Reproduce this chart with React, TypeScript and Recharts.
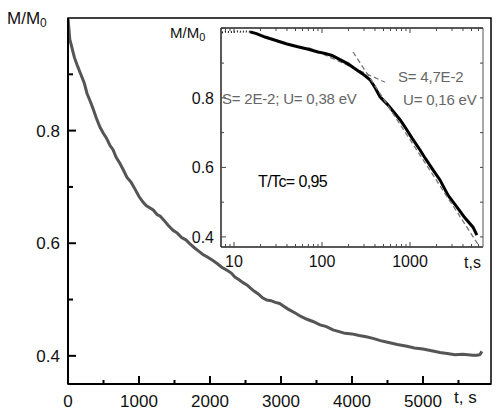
import React from "react";
import {
  LineChart,
  Line,
  XAxis,
  YAxis,
  CartesianGrid,
  ReferenceArea,
} from "recharts";

// main panel: relaxation M/M0 vs t (linear time)
const mainT = [
  0, 10, 25, 40, 56, 90, 127, 180, 230, 268, 310, 350, 400, 451, 500, 540, 590, 634, 680, 730, 780, 831,
  890, 940, 1000, 1056, 1100, 1150, 1200, 1254, 1300, 1350, 1410, 1479, 1540, 1600, 1660, 1718, 1780,
  1840, 1900, 1958, 2030, 2100, 2170, 2240, 2300, 2350, 2410, 2465, 2520, 2563, 2620, 2680, 2740, 2800,
  2860, 2920, 2980, 3028, 3100, 3200, 3280, 3366, 3450, 3550, 3640, 3732, 3820, 3900, 4000, 4100, 4200,
  4296, 4400, 4500, 4640, 4775, 4880, 5000, 5120, 5239, 5340, 5450, 5560, 5704, 5760, 5800, 5830,
];
const mainM = [
  1.0, 0.985, 0.962, 0.955, 0.947, 0.93, 0.917, 0.9, 0.884, 0.866, 0.853, 0.84, 0.822, 0.806, 0.795,
  0.787, 0.774, 0.766, 0.752, 0.742, 0.73, 0.717, 0.708, 0.697, 0.683, 0.673, 0.667, 0.663, 0.659, 0.651,
  0.648, 0.641, 0.632, 0.623, 0.618, 0.61, 0.606, 0.599, 0.592, 0.586, 0.58, 0.576, 0.57, 0.564, 0.557,
  0.552, 0.547, 0.54, 0.535, 0.53, 0.526, 0.521, 0.515, 0.51, 0.503, 0.499, 0.498, 0.495, 0.493, 0.489,
  0.483, 0.476, 0.47, 0.465, 0.461, 0.455, 0.452, 0.446, 0.443, 0.44, 0.439, 0.436, 0.434, 0.431, 0.427,
  0.424, 0.42, 0.417, 0.414, 0.412, 0.409, 0.406, 0.404, 0.402, 0.403, 0.401, 0.401, 0.402, 0.408,
];
const mainXTicks = [0, 500, 1000, 1500, 2000, 2500, 3000, 3500, 4000, 4500, 5000, 5500];
const mainYTicks = [0.4, 0.5, 0.6, 0.7, 0.8, 0.9];

// inset: same relaxation on log time, with two linear-in-log fits
const insetStartT = [7.3, 8, 9, 10, 11, 12, 13.5, 15.2];
const insetStartM = [0.988, 0.99, 0.989, 0.99, 0.991, 0.99, 0.991, 0.99];
const insetT = [
  15.2, 18, 22.5, 30, 40, 53, 70, 90, 108, 130, 160, 200, 237, 290, 351, 400, 456, 550, 650, 770, 900,
  1050, 1300, 1500, 1800, 2190, 2700, 3420, 4200, 5200, 5750,
];
const insetM = [
  0.99, 0.985, 0.975, 0.965, 0.955, 0.947, 0.94, 0.932, 0.928, 0.922, 0.91, 0.897, 0.884, 0.869, 0.852,
  0.83, 0.803, 0.782, 0.76, 0.737, 0.712, 0.685, 0.65, 0.625, 0.595, 0.564, 0.52, 0.486, 0.455, 0.428,
  0.405,
];
const fit1T = [70, 520];
const fit1M = [0.945, 0.845];
const fit2T = [225, 6240];
const fit2M = [0.932, 0.37];
const insetXTicks = [
  8, 9, 10, 20, 30, 40, 50, 60, 70, 80, 90, 100, 200, 300, 400, 500, 600, 700, 800, 900, 1000, 2000,
  3000, 4000, 5000, 6000,
];
const insetXLabels = [10, 100, 1000];
const insetYTicks = [0.4, 0.5, 0.6, 0.7, 0.8, 0.9, 1.0];

const zip = (xs: number[], ys: number[]) => xs.map((t, i) => ({ t, m: ys[i] }));

const FONT = "Arial, 'Liberation Sans', sans-serif";

function MainXTick({ x, y, payload }: any) {
  const major = payload.value % 1000 === 0;
  return (
    <g>
      <line x1={x} y1={y} x2={x} y2={y - (major ? 8 : 4)} stroke="#000" strokeWidth={2} />
      {major && (
        <text x={x} y={y + 23} textAnchor="middle" fontSize={17} fontFamily={FONT} fill="#111">
          {payload.value}
        </text>
      )}
    </g>
  );
}

function MainYTick({ x, y, payload }: any) {
  const major = Math.round(payload.value * 10) % 2 === 0;
  return (
    <g>
      <line x1={x} y1={y} x2={x + (major ? 8 : 5)} y2={y} stroke="#000" strokeWidth={2} />
      {major && (
        <text x={x - 8} y={y + 6} textAnchor="end" fontSize={17} fontFamily={FONT} fill="#111">
          {payload.value.toFixed(1)}
        </text>
      )}
    </g>
  );
}

function InsetXTick({ x, y, payload, top }: any) {
  const major = insetXLabels.includes(payload.value);
  const len = major ? 5 : 3;
  const dir = top ? 1 : -1;
  return (
    <g>
      <line x1={x} y1={y} x2={x} y2={y + dir * len} stroke="#444" strokeWidth={1} />
      {!top && major && (
        <text x={x} y={y + 20} textAnchor="middle" fontSize={16} fontFamily={FONT} fill="#111">
          {payload.value}
        </text>
      )}
    </g>
  );
}

function InsetYTick({ x, y, payload, right }: any) {
  const major = Math.round(payload.value * 10) % 2 === 0;
  const len = right ? 3 : major ? 5 : 3;
  const dir = right ? -1 : 1;
  const showLabel = !right && major && payload.value < 0.95;
  return (
    <g>
      <line x1={x} y1={y} x2={x + dir * len} y2={y} stroke="#444" strokeWidth={1} />
      {showLabel && (
        <text x={x - 7} y={y + 6} textAnchor="end" fontSize={16} fontFamily={FONT} fill="#111">
          {payload.value.toFixed(1)}
        </text>
      )}
    </g>
  );
}

const abs = (left: number, top: number, extra: React.CSSProperties = {}): React.CSSProperties => ({
  position: "absolute",
  left,
  top,
  fontFamily: FONT,
  whiteSpace: "nowrap",
  lineHeight: 1,
  ...extra,
});

export default function App() {
  const mainData = zip(mainT, mainM);
  return (
    <div style={{ position: "absolute", left: 0, top: 0, width: 497, height: 412, background: "#fff" }}>
      <LineChart width={497} height={412} margin={{ top: 18, right: 6, bottom: 27, left: 67 }}>
        <ReferenceArea x1={0} x2={5958} y1={0.35} y2={1.0} fill="none" stroke="#000" strokeWidth={1.5} />
        <XAxis
          type="number"
          dataKey="t"
          domain={[0, 5958]}
          ticks={mainXTicks}
          allowDataOverflow
          height={1}
          tickSize={0}
          tickMargin={0}
          tickLine={false}
          tick={<MainXTick />}
          axisLine={{ stroke: "#000", strokeWidth: 2 }}
          interval={0}
        />
        <YAxis
          type="number"
          domain={[0.35, 1.0]}
          ticks={mainYTicks}
          allowDataOverflow
          width={1}
          tickSize={0}
          tickMargin={0}
          tickLine={false}
          tick={<MainYTick />}
          axisLine={{ stroke: "#000", strokeWidth: 2 }}
          interval={0}
        />
        <Line
          data={mainData}
          dataKey="m"
          stroke="#555"
          strokeWidth={3}
          dot={false}
          isAnimationActive={false}
        />
      </LineChart>

      <div style={abs(150, 0, { width: 347, height: 290 })}>
        <LineChart width={347} height={290} margin={{ top: 27, right: 13, bottom: 42, left: 70 }}>
          <CartesianGrid horizontal={false} vertical={false} fill="#fff" />
          <XAxis
            type="number"
            dataKey="t"
            scale="log"
            domain={[7.116, 6752]}
            ticks={insetXTicks}
            allowDataOverflow
            height={1}
            tickSize={0}
            tickMargin={0}
            tickLine={false}
            tick={<InsetXTick />}
            axisLine={{ stroke: "#222", strokeWidth: 1.5 }}
            interval={0}
          />
          <XAxis
            xAxisId="top"
            orientation="top"
            type="number"
            dataKey="t"
            scale="log"
            domain={[7.116, 6752]}
            ticks={insetXTicks}
            allowDataOverflow
            height={1}
            tickSize={0}
            tickMargin={0}
            tickLine={false}
            tick={<InsetXTick top />}
            axisLine={{ stroke: "#222", strokeWidth: 1.5 }}
            interval={0}
          />
          <YAxis
            type="number"
            domain={[0.371, 1.001]}
            ticks={insetYTicks}
            allowDataOverflow
            width={1}
            tickSize={0}
            tickMargin={0}
            tickLine={false}
            tick={<InsetYTick />}
            axisLine={{ stroke: "#222", strokeWidth: 1.5 }}
            interval={0}
          />
          <YAxis
            yAxisId="right"
            orientation="right"
            type="number"
            domain={[0.371, 1.001]}
            ticks={insetYTicks}
            allowDataOverflow
            width={1}
            tickSize={0}
            tickMargin={0}
            tickLine={false}
            tick={<InsetYTick right />}
            axisLine={{ stroke: "#555", strokeWidth: 1 }}
            interval={0}
          />
          <Line
            data={zip(fit1T, fit1M)}
            dataKey="m"
            stroke="#777"
            strokeWidth={1.3}
            strokeDasharray="5 3"
            dot={false}
            isAnimationActive={false}
          />
          <Line
            data={zip(insetStartT, insetStartM)}
            dataKey="m"
            stroke="#111"
            strokeWidth={2}
            strokeDasharray="1 2"
            dot={false}
            isAnimationActive={false}
          />
          <Line
            data={zip(insetT, insetM)}
            dataKey="m"
            stroke="#000"
            strokeWidth={3}
            dot={false}
            isAnimationActive={false}
          />
          <Line
            data={zip(fit2T, fit2M)}
            dataKey="m"
            stroke="#777"
            strokeWidth={1.3}
            strokeDasharray="5 3"
            dot={false}
            isAnimationActive={false}
          />
        </LineChart>
      </div>

      {/* axis titles and annotations */}
      <div style={abs(7, 10, { fontSize: 17, color: "#111" })}>
        M/M<sub style={{ fontSize: 12, verticalAlign: -3 }}>0</sub>
      </div>
      <div style={abs(454, 389, { fontSize: 17, color: "#111" })}>t, s</div>
      <div style={abs(170, 25, { fontSize: 15, color: "#111" })}>
        M/M<sub style={{ fontSize: 11, verticalAlign: -3 }}>0</sub>
      </div>
      <div style={abs(464, 255, { fontSize: 16, color: "#111" })}>t,s</div>
      <div style={abs(222, 91, { fontSize: 15, color: "#666", letterSpacing: -0.2 })}>S= 2E-2; U= 0,38 eV</div>
      <div style={abs(398, 69, { fontSize: 15, color: "#666", letterSpacing: -0.2 })}>S= 4,7E-2</div>
      <div style={abs(403, 92, { fontSize: 15, color: "#666", letterSpacing: -0.2 })}>U= 0,16 eV</div>
      <div style={abs(258, 174, { fontSize: 16, color: "#000", letterSpacing: -0.6 })}>T/Tc= 0,95</div>
    </div>
  );
}
